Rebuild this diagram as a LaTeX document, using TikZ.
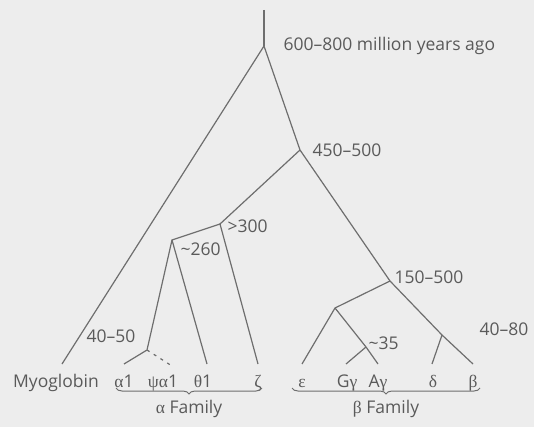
\documentclass[tikz,border=0pt]{standalone}
\usepackage{fontspec}
\setmainfont{Open Sans}
\newfontfamily\greekfont{Liberation Serif}
\usepackage{xcolor}
\usetikzlibrary{decorations.pathreplacing}
\definecolor{treegray}{HTML}{6E6E6E}
\definecolor{labelgray}{HTML}{5A5A5A}
\definecolor{paper}{HTML}{EDEDED}
\newcommand{\gk}[1]{{\greekfont #1}}

\begin{document}
\begin{tikzpicture}[x=1pt,y=-1pt,line width=1.2pt,
  font=\fontsize{17.5}{20}\selectfont,
  branch/.style={draw=treegray},
  age/.style={text=labelgray,anchor=west,inner sep=0pt},
  leaf/.style={text=labelgray,anchor=base,inner sep=0pt},
  family/.style={draw=treegray,line width=1pt,decorate,
    decoration={brace,mirror,amplitude=6pt}}]
  \fill[paper] (0,0) rectangle (534,427);
  \useasboundingbox (0,0) rectangle (534,427);

  % branch points
  \coordinate (stem) at (264,10);
  \coordinate (root) at (264,46);
  \coordinate (split450) at (300,150);
  \coordinate (split300) at (220,224);
  \coordinate (split260) at (172,240);
  \coordinate (split40) at (147,350);
  \coordinate (split150) at (390,281);
  \coordinate (splitEps) at (335,308);
  \coordinate (split35) at (366,347);
  \coordinate (split4080) at (442,335);

  % leaf ends
  \coordinate (endMyo) at (62,364);
  \coordinate (endA1) at (124,364);
  \coordinate (endPsi) at (172,366);
  \coordinate (endTheta) at (207,364);
  \coordinate (endZeta) at (258,364);
  \coordinate (endEps) at (302,364);
  \coordinate (endGg) at (346,364);
  \coordinate (endAg) at (378,364);
  \coordinate (endDelta) at (432,364);
  \coordinate (endBeta) at (473,364);

  \draw[branch] (stem) -- (root);
  \draw[branch] (root) -- (endMyo);
  \draw[branch] (root) -- (split450) -- (split150);
  \draw[branch] (split450) -- (split300) -- (endZeta);
  \draw[branch] (split300) -- (split260) -- (endTheta);
  \draw[branch] (split260) -- (split40) -- (endA1);
  \draw[branch,dashed,dash pattern=on 3pt off 5pt] (split40) -- (endPsi);
  \draw[branch] (split150) -- (split4080) -- (endBeta);
  \draw[branch] (split4080) -- (endDelta);
  \draw[branch] (split150) -- (splitEps) -- (endEps);
  \draw[branch] (splitEps) -- (split35) -- (endAg);
  \draw[branch] (split35) -- (endGg);

  % ages
  \node[age] (age600) at (283,46) {600–800 million years ago};
  \node[age] (age450) at (312,150) {450–500};
  \node[age] (age300) at (227,226) {>300};
  \node[age] (age260) at (180,249) {\textasciitilde260};
  \node[age] (age150) at (394,277) {150–500};
  \node[age] (age40) at (86,336) {40–50};
  \node[age] (age35) at (368,343) {\textasciitilde35};
  \node[age] (age4080) at (479,329) {40–80};

  % leaves
  \node[leaf] (myo) at (56,387) {Myoglobin};
  \node[leaf] (a1) at (124,387) {\gk{α}1};
  \node[leaf] (psi) at (163,387) {\gk{ψα}1};
  \node[leaf] (theta) at (203,387) {\gk{θ}1};
  \node[leaf] (zeta) at (258,387) {\gk{ζ}};
  \node[leaf] (eps) at (302,387) {\gk{ε}};
  \node[leaf] (gg) at (347,387) {G\gk{γ}};
  \node[leaf] (ag) at (378,387) {A\gk{γ}};
  \node[leaf] (delta) at (433,387) {\gk{δ}};
  \node[leaf] (beta) at (473,387) {\gk{β}};

  % families
  \draw[family] (116,388) -- (262,388) node[midway,below=8pt,text=labelgray] (alphaFam) {\gk{α} Family};
  \draw[family] (292,388) -- (480,388) node[midway,below=8pt,text=labelgray] (betaFam) {\gk{β} Family};
\end{tikzpicture}
\end{document}
